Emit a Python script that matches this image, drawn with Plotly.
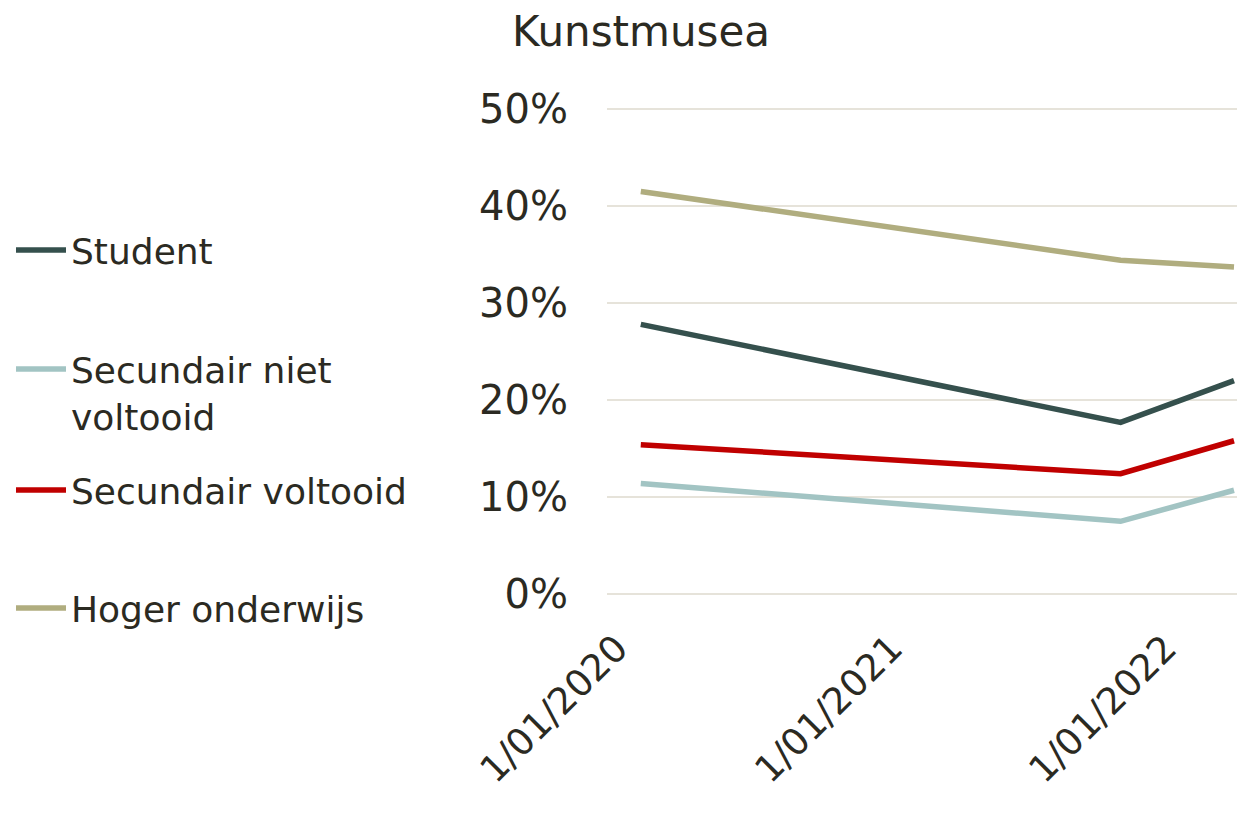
import plotly.graph_objects as go

dates = ["2020-01-01", "2021-10-01", "2022-03-01"]
series_names = ["Student", "Secundair niet<br>voltooid", "Secundair voltooid", "Hoger onderwijs"]
student = [0.278, 0.177, 0.220]
sec_niet = [0.114, 0.075, 0.107]
sec_volt = [0.154, 0.124, 0.158]
hoger = [0.415, 0.344, 0.337]
values = [student, sec_niet, sec_volt, hoger]
colors = ["#35504D", "#A2C4C3", "#C00000", "#B0AD7F"]
tick_dates = ["2020-01-01", "2021-01-01", "2022-01-01"]
y_ticks = [0, 0.1, 0.2, 0.3, 0.4, 0.5]

FONT = "DejaVu Sans"
TXT = "#2B2A22"
W, H = 1229, 797  # page body has an 8px margin

fig = go.Figure()
legend_ids = ["legend", "legend2", "legend3", "legend4"]
for name, vals, col, lg in zip(series_names, values, colors, legend_ids):
    fig.add_trace(go.Scatter(x=dates, y=vals, mode="lines", name=name,
                             line=dict(color=col, width=5.5), legend=lg))

leg_common = dict(x=3/W, xanchor="left", xref="container", yref="container",
                  bgcolor="rgba(0,0,0,0)", itemwidth=50,
                  font=dict(family=FONT, size=36, color=TXT), borderwidth=0)
def yp(py):
    return 1 - (py - 8) / H

fig.update_layout(
    width=W, height=H,
    margin=dict(l=599, r=0, t=99, b=209, autoexpand=False),
    paper_bgcolor="white", plot_bgcolor="white",
    title=dict(text="Kunstmusea", x=(641 - 8)/W, xanchor="center", xref="container",
               y=yp(31), yanchor="middle", yref="container",
               font=dict(family=FONT, size=42, color=TXT)),
    xaxis=dict(type="date", range=["2019-11-17", "2022-03-05"], tickvals=tick_dates,
               tickformat="%-d/%m/%Y", tickangle=-45, showgrid=False, zeroline=False,
               showline=False, ticks="", ticklabelstandoff=22, ticklabelshift=-24,
               tickfont=dict(family=FONT, size=37, color=TXT)),
    yaxis=dict(range=[-0.002, 0.502], tickvals=y_ticks, tickformat=".0%", showgrid=True,
               gridcolor="#E6E3DA", gridwidth=2, zeroline=False, showline=False, ticks="",
               ticklabelstandoff=38, tickfont=dict(family=FONT, size=40, color=TXT)),
    legend=dict(y=yp(250), yanchor="middle", **leg_common),
    legend2=dict(y=yp(339), yanchor="top", valign="top", **leg_common),
    legend3=dict(y=yp(490), yanchor="middle", **leg_common),
    legend4=dict(y=yp(608), yanchor="middle", **leg_common),
    showlegend=True,
)

fig.write_html("out.html")
